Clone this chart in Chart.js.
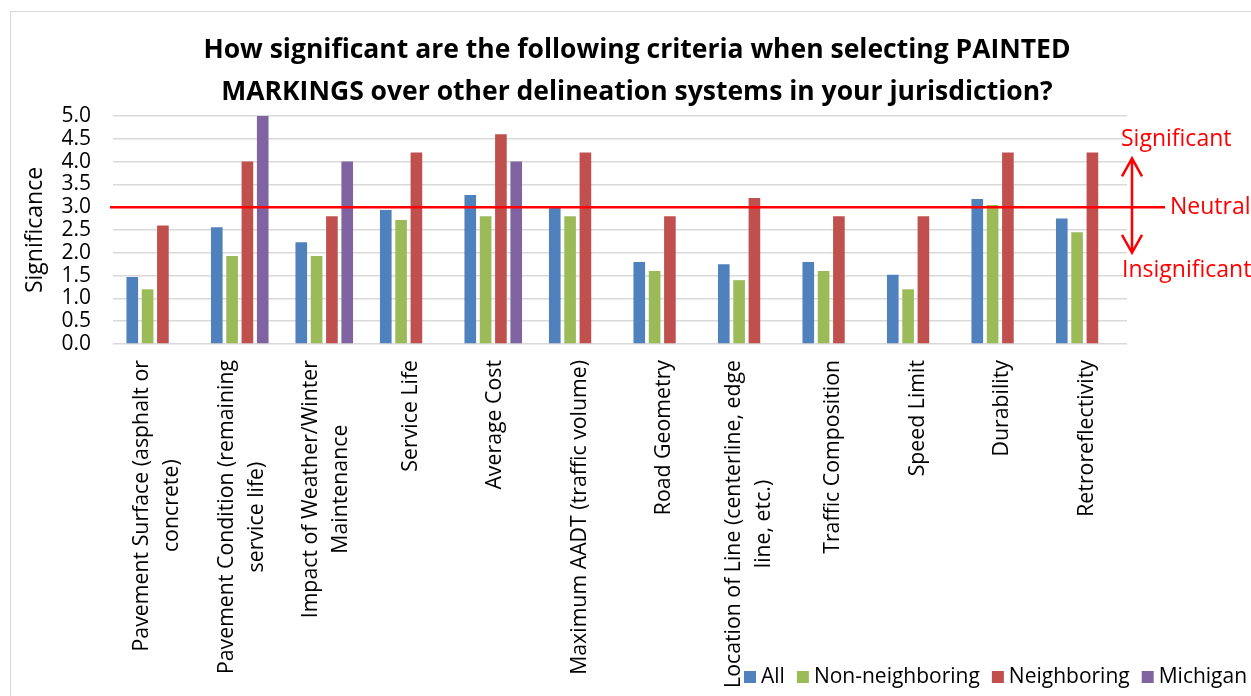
<!DOCTYPE html>
<html>
<head>
<meta charset="utf-8">
<script src="https://cdn.jsdelivr.net/npm/chart.js@4.4.1/dist/chart.umd.min.js"></script>
<style>
  html, body { margin: 0; padding: 0; background: #fff; }
  #wrap { position: relative; width: 1251px; height: 696px; overflow: hidden; }
</style>
</head>
<body>
<div id="wrap"><canvas id="criteriaChart"></canvas></div>
<script>
const titleLines = [
  'How significant are the following criteria when selecting PAINTED',
  'MARKINGS over other delineation systems in your jurisdiction?'
];

const categories = [
  ['Pavement Surface (asphalt or', 'concrete)'],
  ['Pavement Condition (remaining', 'service life)'],
  ['Impact of Weather/Winter', 'Maintenance'],
  ['Service Life'],
  ['Average Cost'],
  ['Maximum AADT (traffic volume)'],
  ['Road Geometry'],
  ['Location of Line (centerline, edge', 'line, etc.)'],
  ['Traffic Composition'],
  ['Speed Limit'],
  ['Durability'],
  ['Retroreflectivity']
];

const seriesNames = ['All', 'Non-neighboring', 'Neighboring', 'Michigan'];
const allValues = [1.47, 2.56, 2.23, 2.94, 3.27, 3.0, 1.8, 1.75, 1.8, 1.52, 3.18, 2.75];
const nonNeighboringValues = [1.2, 1.93, 1.93, 2.72, 2.8, 2.8, 1.6, 1.4, 1.6, 1.2, 3.05, 2.45];
const neighboringValues = [2.6, 4.0, 2.8, 4.2, 4.6, 4.2, 2.8, 3.2, 2.8, 2.8, 4.2, 4.2];
const michiganValues = [null, 5.0, 4.0, null, 4.0, null, null, null, null, null, null, null];

const yTickLabels = ['0.0', '0.5', '1.0', '1.5', '2.0', '2.5', '3.0', '3.5', '4.0', '4.5', '5.0'];
const neutralValue = 3;
const yAxisTitle = 'Significance';
const zoneLabels = ['Significant', 'Neutral', 'Insignificant'];

const colors = ['#4F81BD', '#9BBB59', '#C0504D', '#8064A2'];
const FONT = '"Open Sans", "Noto Sans", sans-serif';

// extra drawing: frame, title, neutral line, arrows, rotated labels, legend
const decor = {
  id: 'decor',
  beforeDraw(chart) {
    const ctx = chart.ctx;
    ctx.save();
    ctx.strokeStyle = '#d9d9d9';
    ctx.lineWidth = 1;
    ctx.strokeRect(10.5, 11.5, 1400, 800);
    ctx.restore();
  },
  afterDatasetsDraw(chart) {
    const ctx = chart.ctx;
    const area = chart.chartArea;
    const y = chart.scales.y;
    const yn = y.getPixelForValue(neutralValue);
    ctx.save();
    ctx.strokeStyle = '#FF0000';
    ctx.fillStyle = '#FF0000';
    ctx.lineWidth = 2.5;
    ctx.beginPath();
    ctx.moveTo(area.left - 3, yn);
    ctx.lineTo(area.right + 38, yn);
    ctx.stroke();

    // double arrow
    const ax = area.right + 5;
    const yTop = y.getPixelForValue(4.07);
    const yBot = y.getPixelForValue(2.0);
    ctx.beginPath();
    ctx.moveTo(ax, yTop); ctx.lineTo(ax, yBot);
    ctx.moveTo(ax - 10, yTop + 18); ctx.lineTo(ax, yTop); ctx.lineTo(ax + 10, yTop + 18);
    ctx.moveTo(ax - 10, yBot - 18); ctx.lineTo(ax, yBot); ctx.lineTo(ax + 10, yBot - 18);
    ctx.stroke();

    ctx.font = '23px ' + FONT;
    ctx.textAlign = 'left';
    ctx.textBaseline = 'alphabetic';
    ctx.fillText(zoneLabels[0], area.right - 6, y.getPixelForValue(4.35));
    ctx.fillText(zoneLabels[1], area.right + 43, yn + 7);
    ctx.fillText(zoneLabels[2], area.right - 5, y.getPixelForValue(1.48));
    ctx.restore();
  },
  afterDraw(chart) {
    const ctx = chart.ctx;
    const area = chart.chartArea;
    const x = chart.scales.x;
    ctx.save();
    ctx.fillStyle = '#000';

    // title
    ctx.font = 'bold 26.5px ' + FONT;
    ctx.textAlign = 'center';
    ctx.textBaseline = 'alphabetic';
    titleLines.forEach((t, i) => ctx.fillText(t, 637, 58 + i * 42));

    // category labels, rotated, lines centred on each other
    ctx.font = '21.3px ' + FONT;
    categories.forEach((lines, i) => {
      const cx = x.getPixelForValue(i) + 2;
      const maxW = Math.max(...lines.map(l => ctx.measureText(l).width));
      ctx.save();
      ctx.translate(cx, area.bottom + 16 + maxW / 2);
      ctx.rotate(-Math.PI / 2);
      ctx.textAlign = 'center';
      ctx.textBaseline = 'middle';
      lines.forEach((l, j) => ctx.fillText(l, 0, (j - (lines.length - 1) / 2) * 30));
      ctx.restore();
    });

    // legend
    ctx.font = '21px ' + FONT;
    ctx.textAlign = 'left';
    ctx.textBaseline = 'middle';
    let lx = 744;
    const ly = 677;
    chart.data.datasets.forEach(ds => {
      ctx.fillStyle = ds.backgroundColor;
      ctx.fillRect(lx, ly - 6, 12, 12);
      lx += 17;
      ctx.fillStyle = '#000';
      ctx.fillText(ds.label, lx, ly);
      lx += ctx.measureText(ds.label).width + 12;
    });
    ctx.restore();
  }
};

const seriesData = [allValues, nonNeighboringValues, neighboringValues, michiganValues];

new Chart(document.getElementById('criteriaChart'), {
  type: 'bar',
  data: {
    labels: categories.map(c => c.join(' ')),
    datasets: seriesNames.map((name, i) => ({
      label: name,
      data: seriesData[i],
      backgroundColor: colors[i],
      borderWidth: 0,
      categoryPercentage: 0.725,
      barPercentage: 0.76
    }))
  },
  options: {
    responsive: true,
    maintainAspectRatio: false,
    animation: false,
    layout: { padding: { left: 10, right: 124, top: 116, bottom: 352 } },
    plugins: {
      legend: { display: false },
      title: { display: false },
      tooltip: { enabled: false }
    },
    scales: {
      x: { display: false },
      y: {
        min: 0, max: 5,
        ticks: {
          stepSize: 0.5,
          autoSkip: false,
          padding: 22,
          color: '#000',
          font: { family: FONT, size: 21 },
          callback: (v, i) => yTickLabels[i]
        },
        grid: { color: '#d9d9d9', lineWidth: 1.5, drawTicks: false },
        border: { display: false },
        title: {
          display: true,
          text: yAxisTitle,
          color: '#000',
          font: { family: FONT, size: 23 },
          padding: { top: 12, bottom: 0 }
        },
        afterFit: s => { s.width = 103; }
      }
    }
  },
  plugins: [decor]
});
</script>
</body>
</html>
